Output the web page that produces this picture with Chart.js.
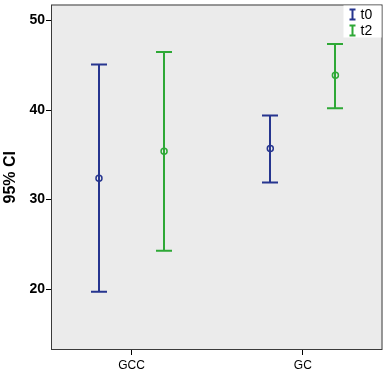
<!DOCTYPE html>
<html>
<head>
<meta charset="utf-8">
<script src="https://cdn.jsdelivr.net/npm/chart.js@4"></script>
<style>
  html, body { margin: 0; padding: 0; background: #fff; }
  #wrap { width: 387px; height: 373px; position: relative; }
</style>
</head>
<body>
<div id="wrap"><canvas id="chart"></canvas></div>
<script>
// ── data ──
const categories = ['GCC', 'GC'];
const seriesNames = ['t0', 't2'];
const seriesColors = ['#26358f', '#2ea836'];
const t0Mean = [32.4, 35.7];
const t0Low = [19.7, 31.9];
const t0High = [45.1, 39.4];
const t2Mean = [35.4, 43.9];
const t2Low = [24.3, 40.2];
const t2High = [46.5, 47.4];
const yTicks = [20, 30, 40, 50];

const groupOffset = 0.19; // series spread around each category slot
const FONT = "'Liberation Sans', Arial, sans-serif";

const series = [
  { name: seriesNames[0], color: seriesColors[0], mean: t0Mean, low: t0Low, high: t0High, dx: -groupOffset },
  { name: seriesNames[1], color: seriesColors[1], mean: t2Mean, low: t2Low, high: t2High, dx: groupOffset },
];

// plot background + frame
const frame = {
  id: 'frame',
  beforeDraw(chart) {
    const { ctx, chartArea: a } = chart;
    ctx.save();
    ctx.fillStyle = '#ebebeb';
    ctx.fillRect(a.left, a.top, a.right - a.left, a.bottom - a.top);
    ctx.restore();
  },
  afterDraw(chart) {
    const { ctx, chartArea: a } = chart;
    ctx.save();
    ctx.strokeStyle = '#3a3a3a';
    ctx.lineWidth = 1;
    ctx.strokeRect(a.left + 0.5, a.top + 0.5, a.right - a.left - 1, a.bottom - a.top - 1);
    ctx.restore();
  },
};

// vertical CI bars with caps
const errorBars = {
  id: 'errorBars',
  beforeDatasetsDraw(chart) {
    const { ctx, scales: { x, y } } = chart;
    ctx.save();
    ctx.lineWidth = 2;
    series.forEach((s) => {
      ctx.strokeStyle = s.color;
      categories.forEach((c, i) => {
        const px = Math.round(x.getPixelForValue(i + s.dx));
        const top = y.getPixelForValue(s.high[i]);
        const bot = y.getPixelForValue(s.low[i]);
        ctx.beginPath();
        ctx.moveTo(px, top); ctx.lineTo(px, bot);
        ctx.moveTo(px - 8, top); ctx.lineTo(px + 8, top);
        ctx.moveTo(px - 8, bot); ctx.lineTo(px + 8, bot);
        ctx.stroke();
      });
    });
    ctx.restore();
  },
};

// legend box in upper right of plot
const ciLegend = {
  id: 'ciLegend',
  afterDraw(chart) {
    const { ctx, chartArea: a } = chart;
    const w = 38, h = 32;
    const bx = a.right - w - 1, by = a.top + 1;
    ctx.save();
    ctx.fillStyle = '#fff';
    ctx.fillRect(bx, by, w, h);
    ctx.font = `14px ${FONT}`;
    ctx.textBaseline = 'middle';
    series.forEach((s, k) => {
      const cy = by + 9 + k * 16;
      const ix = bx + 9;
      ctx.strokeStyle = s.color;
      ctx.lineWidth = 2;
      ctx.beginPath();
      ctx.moveTo(ix, cy - 5); ctx.lineTo(ix, cy + 5);
      ctx.moveTo(ix - 3, cy - 5); ctx.lineTo(ix + 3, cy - 5);
      ctx.moveTo(ix - 3, cy + 5); ctx.lineTo(ix + 3, cy + 5);
      ctx.stroke();
      ctx.fillStyle = '#000';
      ctx.fillText(s.name, bx + 17, cy + 1);
    });
    ctx.restore();
  },
};

new Chart(document.getElementById('chart'), {
  type: 'scatter',
  data: {
    datasets: series.map((s) => ({
      label: s.name,
      data: categories.map((c, i) => ({ x: i + s.dx, y: s.mean[i] })),
      borderColor: s.color,
      backgroundColor: 'rgba(0,0,0,0)',
      pointRadius: 3,
      pointBorderWidth: 1.5,
      pointHoverRadius: 3,
    })),
  },
  options: {
    responsive: true,
    maintainAspectRatio: false,
    animation: false,
    layout: { padding: { top: 3, right: 3, left: 0, bottom: 0 } },
    plugins: {
      legend: { display: false },
      tooltip: { enabled: false },
    },
    scales: {
      x: {
        type: 'linear',
        min: -0.47,
        max: 1.465,
        afterBuildTicks: (sc) => { sc.ticks = categories.map((c, i) => ({ value: i })); },
        afterFit: (sc) => { sc.height = 23; sc.paddingLeft = 0; sc.paddingRight = 0; },
        grid: { drawOnChartArea: false, tickLength: 5, tickColor: '#000', tickWidth: 1 },
        border: { display: false },
        ticks: {
          color: '#000',
          padding: 3,
          font: { family: FONT, size: 12 },
          callback: (v) => categories[v],
        },
      },
      y: {
        min: 13.2,
        max: 51.8,
        afterBuildTicks: (sc) => { sc.ticks = yTicks.map((v) => ({ value: v })); },
        afterFit: (sc) => { sc.width = 51; sc.paddingTop = 0; sc.paddingBottom = 0; },
        grid: { drawOnChartArea: false, tickLength: 5, tickColor: '#000', tickWidth: 1 },
        border: { display: false },
        title: {
          display: true,
          text: '95% CI',
          color: '#000',
          padding: { top: 1, bottom: 0 },
          font: { family: FONT, size: 16, weight: 'bold' },
        },
        ticks: {
          color: '#000',
          padding: 1,
          font: { family: FONT, size: 14, weight: 'bold' },
        },
      },
    },
  },
  plugins: [frame, errorBars, ciLegend],
});
</script>
</body>
</html>
